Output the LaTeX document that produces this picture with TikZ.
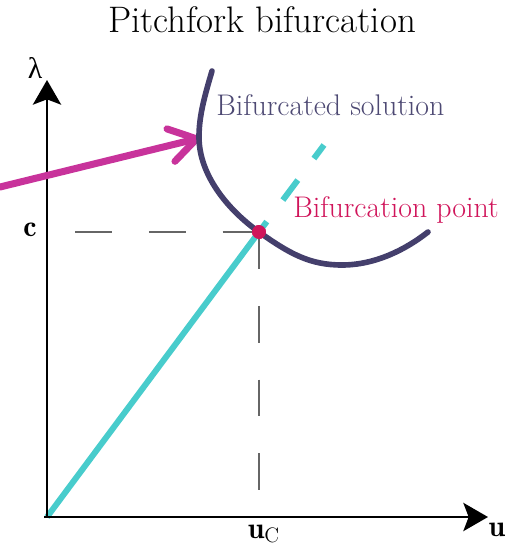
\documentclass[tikz,border=0pt]{standalone}
\usepackage{amsmath}
\usepackage{fontspec}
\newfontfamily\greekfont{Liberation Serif}
\usetikzlibrary{arrows.meta}
\definecolor{branchcol}{HTML}{443F6C}
\definecolor{trivialcol}{HTML}{48CCCC}
\definecolor{pointcol}{HTML}{D0145A}
\definecolor{arrowcol}{HTML}{C8339B}
\definecolor{guidecol}{HTML}{666666}

\begin{document}
\begin{tikzpicture}[
    x=0.02cm, y=-0.02cm,
    axis/.style={line width=1.7pt, -{Stealth[length=14pt, width=16pt, inset=3pt]}},
    guide/.style={guidecol, line width=1.7pt, dash pattern=on 21pt off 21pt},
    trivial/.style={trivialcol, line width=3.4pt},
    branch/.style={branchcol, line width=3.2pt, line cap=round},
    pointer/.style={arrowcol, line width=4pt, line cap=round, line join=round,
                    -{Straight Barb[length=15pt, width=19pt, round]}},
    lbl/.style={inner sep=0pt, font=\fontsize{17}{20}\selectfont},
    dot/.style={circle, fill=pointcol, inner sep=0pt, minimum size=14*0.567pt}
]
\useasboundingbox (0,0) rectangle (531,548);
\coordinate (O) at (47,517);
\coordinate (ytip) at (47,80);
\coordinate (xtip) at (488,517);
\coordinate (cy) at (75,232);
\coordinate (ux) at (259,495);
\coordinate (trivend) at (324,145);
\coordinate (from) at (0,187);
\coordinate (hit) at (200,138);
\node[dot] (bp) at (259,232) {};

\node[font=\fontsize{21}{25}\selectfont] (title) at (262,20) {Pitchfork bifurcation};

% guides to the bifurcation point
\draw[guide] (cy) -- (bp.center);
\draw[guide] (bp.center) -- (ux);

% trivial solution
\draw[trivial] (O) -- (bp.center);
\draw[trivial, dash pattern=on 14.2pt off 15.3pt, dash phase=6.8pt] (bp.center) -- (trivend);

% axes
\draw[axis] (O) -- (ytip);
\draw[axis] ([xshift=-1.5pt]O) -- (xtip);
\node[lbl] (lam) at (35,68) {\greekfont λ};
\node[lbl] (xlab) at (497,530) {$\mathbf{u}$};
\node[lbl] (clab) at (30,230) {$\mathbf{c}$};
\node[lbl] (uclab) at (264,534) {$\mathbf{u}_{\mathrm{C}}$};

% pointer and bifurcated branch
\draw[pointer] (from) -- (hit);
\draw[branch] (212,71) .. controls (205,95) and (199,115) .. (199,137)
    .. controls (199,175) and (228,210) .. (bp.center)
    .. controls (290,254) and (310,265) .. (342,265)
    .. controls (375,265) and (405,250) .. (428,232);
\node[dot] at (bp) {};

\node[lbl, anchor=west, text=branchcol!95!white] (branchlab) at (216,105) {Bifurcated solution};
\node[lbl, anchor=west, text=pointcol] (pointlab) at (293,210) {Bifurcation point};
\end{tikzpicture}
\end{document}
